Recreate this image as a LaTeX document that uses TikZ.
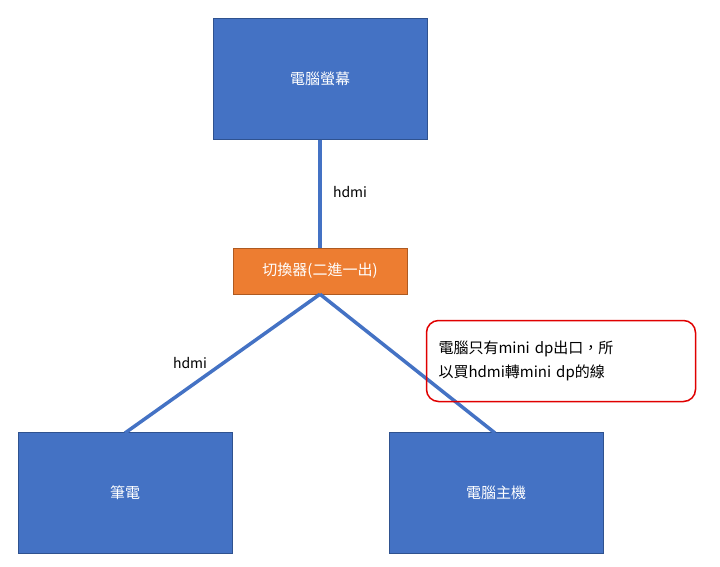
\documentclass[tikz,border=0pt]{standalone}
\usepackage{fontspec}
\setmainfont{Noto Sans CJK TC}
\usetikzlibrary{positioning}
\definecolor{boxblue}{HTML}{4472C4}
\definecolor{boxedge}{HTML}{2F528F}
\definecolor{boxorange}{HTML}{ED7D31}
\definecolor{orangeedge}{HTML}{AE5A21}
\definecolor{noteedge}{HTML}{E00000}
\begin{document}
\begin{tikzpicture}[x=1pt,y=-1pt]
\tikzset{
     device/.style={fill=boxblue, draw=boxedge, minimum width=214pt, minimum height=121pt, text=white, font=\fontsize{15}{18}\selectfont},
     switcher/.style={fill=boxorange, draw=orangeedge, minimum width=174pt, minimum height=46pt, text=white, font=\fontsize{15}{18}\selectfont},
     cable/.style={draw=boxblue, line width=3.5pt},
     note/.style={draw=noteedge, line width=1.5pt, rounded corners=12pt, minimum width=269pt, minimum height=81pt, align=left, text width=245pt, font=\fontsize{15}{24}\selectfont}}
\useasboundingbox (0,0) rectangle (720,566);

% The boxes
\node (monitor) [device] at (320,79) {電腦螢幕};
\node (switch) [switcher] at (320,271) {切換器(二進一出)};
\node (laptop) [device] at (125,493) {筆電};
\node (desktop) [device] at (496,493) {電腦主機};

% The cables
\coordinate (laptopin) at (125,433);
\coordinate (desktopin) at (495,433);
\draw [cable] (monitor.south) -- (switch.north);
\draw [cable] (switch.south) -- (laptopin);
\draw [cable] (switch.south) -- (desktopin);

% The labels
\node at (350,192) {\fontsize{14}{16}\selectfont hdmi};
\node at (190,363) {\fontsize{14}{16}\selectfont hdmi};
\node (remark) [note] at (561,361) {電腦只有mini dp出口，所\\以買hdmi轉mini dp的線};
\end{tikzpicture}
\end{document}
